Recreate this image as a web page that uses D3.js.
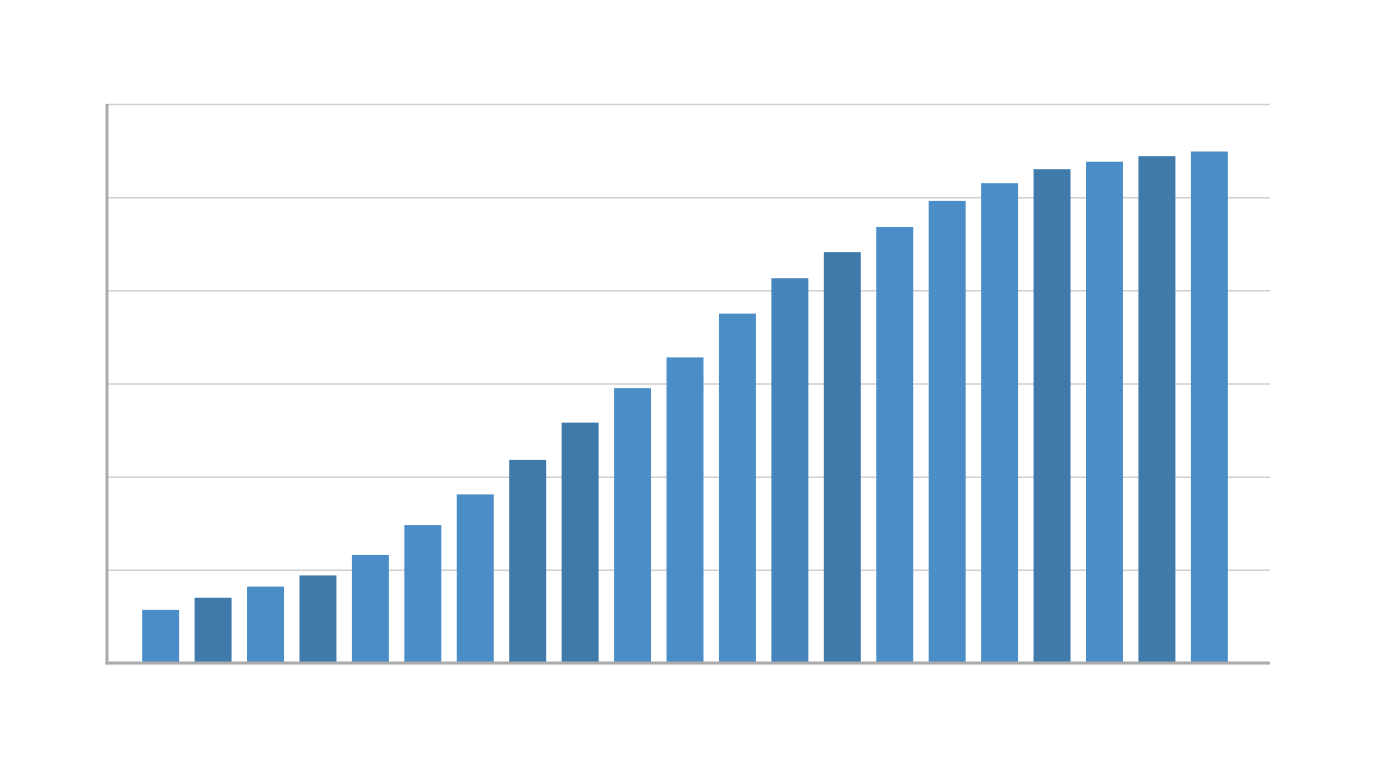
<!DOCTYPE html>
<html>
<head>
<meta charset="utf-8">
<script src="https://cdn.jsdelivr.net/npm/d3@7"></script>
<style>
  html, body { margin: 0; padding: 0; background: #fff; }
  svg { display: block; }
</style>
</head>
<body>
<svg id="chart"></svg>
<script>
// bar values (gridline units)
const categories = d3.range(1, 22).map(i => 'C' + i);
const values = [0.57, 0.70, 0.82, 0.94, 1.16, 1.48, 1.81, 2.18, 2.58, 2.95, 3.28,
                3.75, 4.13, 4.41, 4.68, 4.96, 5.15, 5.30, 5.38, 5.44, 5.49];
const yTicks = [0, 1, 2, 3, 4, 5, 6];

// fill shade per bar (light / mid / dark)
const shades = ['l','d','l','d','l','l','l','d','d','l','l',
                'l','m','d','l','l','l','d','l','d','l'];
const shadeColour = d3.scaleOrdinal()
  .domain(['l', 'm', 'd'])
  .range(['#4a8dc7', '#4584bc', '#3f7aab']);

const width = 1376, height = 768;
const plot = {left: 107, right: 1270, top: 104, bottom: 663};

const svg = d3.select('#chart')
  .attr('width', width)
  .attr('height', height);

const xScale = d3.scaleBand()
  .domain(categories)
  .range([134.3, 1235.7])
  .paddingInner(0.295)
  .paddingOuter(0.15);

const yScale = d3.scaleLinear()
  .domain([0, 6])
  .range([plot.bottom, plot.top]);

// gridlines
const yAxis = d3.axisLeft(yScale)
  .tickValues(yTicks)
  .tickSize(-(plot.right - plot.left))
  .tickFormat('');

svg.append('g')
  .attr('class', 'grid')
  .attr('transform', `translate(${plot.left},0)`)
  .call(yAxis)
  .call(g => g.select('.domain').remove())
  .call(g => g.selectAll('.tick line')
    .attr('stroke', '#cfcfcf')
    .attr('stroke-width', 1.5));

// bars
svg.append('g')
  .selectAll('rect')
  .data(values)
  .join('rect')
  .attr('x', (d, i) => xScale(categories[i]))
  .attr('width', xScale.bandwidth())
  .attr('y', d => yScale(d))
  .attr('height', d => yScale(0) - yScale(d))
  .attr('fill', (d, i) => shadeColour(shades[i]));

// left axis line
svg.append('line')
  .attr('x1', plot.left).attr('x2', plot.left)
  .attr('y1', yScale(6)).attr('y2', yScale(0) + 1.5)
  .attr('stroke', '#ababab')
  .attr('stroke-width', 3);

// baseline
svg.append('line')
  .attr('x1', plot.left - 1.5).attr('x2', plot.right)
  .attr('y1', yScale(0)).attr('y2', yScale(0))
  .attr('stroke', '#ababab')
  .attr('stroke-width', 3);
</script>
</body>
</html>
